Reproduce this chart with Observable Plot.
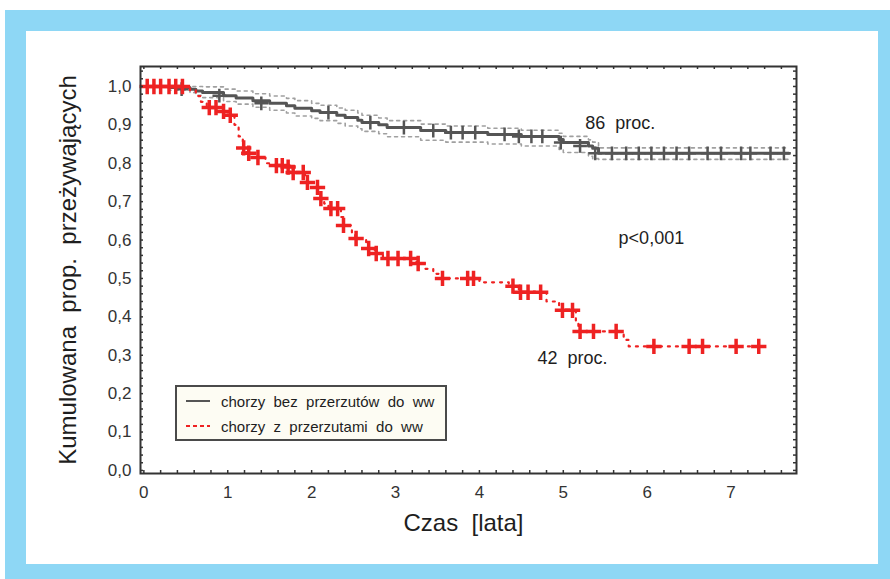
<!DOCTYPE html>
<html>
<head>
<meta charset="utf-8">
<script src="https://cdn.jsdelivr.net/npm/d3@7"></script>
<script src="https://cdn.jsdelivr.net/npm/@observablehq/plot@0.6"></script>
<style>
  html, body { margin: 0; padding: 0; background: #ffffff; }
  #page { position: relative; width: 890px; height: 579px; overflow: hidden; font-family: "Liberation Sans", Arial, sans-serif; }
  #blue { position: absolute; left: 5px; top: 10px; width: 885px; height: 569px; background: #8ed7f5; }
  #white { position: absolute; left: 26px; top: 31px; width: 852px; height: 533px; background: #ffffff; }
  #chart { position: absolute; left: 0; top: 0; }
  #legend { position: absolute; left: 175px; top: 385px; width: 272px; height: 56px; box-sizing: border-box;
            border: 2px solid #4a4a4a; background: #fdfcf3; }
  .lrow { position: absolute; left: 8px; height: 20px; display: flex; align-items: center; font-size: 15px; color: #1e1e1e; white-space: pre; }
  .lrow svg { margin-right: 10px; }
</style>
</head>
<body>
<div id="page">
  <div id="blue"></div>
  <div id="white"></div>
  <div id="chart"></div>
  <div id="legend">
    <div class="lrow" style="top:4px"><svg width="26" height="6"><line x1="1" y1="3" x2="25" y2="3" stroke="#555" stroke-width="2"/></svg>chorzy  bez  przerzutów  do  ww</div>
    <div class="lrow" style="top:29px"><svg width="26" height="6"><line x1="1" y1="3" x2="25" y2="3" stroke="#ee2222" stroke-width="2" stroke-dasharray="4,3"/></svg>chorzy  z  przerzutami  do  ww</div>
  </div>
</div>
<script>
// ---- data ----
const xTicks = [0, 1, 2, 3, 4, 5, 6, 7];
const yTicks = [0, 0.1, 0.2, 0.3, 0.4, 0.5, 0.6, 0.7, 0.8, 0.9, 1.0];

// Kaplan–Meier: patients without metastases (gray)
const grayTimes = [0, 0.3, 0.55, 0.62, 0.7, 0.95, 1.1, 1.3, 1.5, 1.7, 1.8, 2.0, 2.1, 2.3, 2.4, 2.55, 2.6, 2.8, 2.9, 3.3, 3.6, 4.1, 4.5, 4.95, 5.0, 5.3, 5.35, 5.42, 7.69];
const graySurv  = [1, 0.997, 0.993, 0.988, 0.984, 0.976, 0.97, 0.963, 0.956, 0.95, 0.943, 0.937, 0.932, 0.925, 0.919, 0.912, 0.906, 0.9, 0.893, 0.885, 0.88, 0.875, 0.87, 0.862, 0.854, 0.845, 0.839, 0.826, 0.826];
const grayUpper = [1, 1, 1, 1, 0.999, 0.993, 0.988, 0.981, 0.975, 0.969, 0.963, 0.956, 0.951, 0.944, 0.938, 0.931, 0.925, 0.918, 0.911, 0.902, 0.897, 0.891, 0.886, 0.878, 0.87, 0.861, 0.855, 0.84, 0.84];
const grayLower = [1, 0.99, 0.984, 0.977, 0.971, 0.961, 0.954, 0.946, 0.938, 0.931, 0.923, 0.917, 0.911, 0.904, 0.897, 0.89, 0.883, 0.877, 0.869, 0.86, 0.855, 0.85, 0.845, 0.836, 0.828, 0.818, 0.812, 0.81, 0.81];
const grayCensored = [0.45, 0.9, 1.4, 2.2, 2.7, 3.1, 3.45, 3.66, 3.8, 3.95, 4.3, 4.47, 4.62, 4.75, 4.97, 5.2, 5.38, 5.58, 5.75, 5.9, 6.05, 6.2, 6.35, 6.5, 6.72, 6.88, 7.12, 7.23, 7.47, 7.63];
const grayCensSurv = [0.993, 0.976, 0.956, 0.932, 0.906, 0.893, 0.885, 0.88, 0.88, 0.88, 0.875, 0.87, 0.87, 0.87, 0.854, 0.845, 0.826, 0.826, 0.826, 0.826, 0.826, 0.826, 0.826, 0.826, 0.826, 0.826, 0.826, 0.826, 0.826, 0.826];

// Kaplan–Meier: patients with metastases (red)
const redTimes = [0, 0.55, 0.62, 0.68, 0.75, 0.92, 1.0, 1.08, 1.13, 1.18, 1.22, 1.32, 1.45, 1.52, 1.75, 1.92, 1.95, 2.02, 2.07, 2.1, 2.15, 2.2, 2.35, 2.38, 2.48, 2.52, 2.65, 2.68, 2.75, 2.85, 3.25, 3.35, 3.45, 3.52, 4.0, 4.35, 4.47, 4.8, 4.95, 5.15, 5.18, 5.72, 5.78, 7.33];
const redSurv  = [1, 0.99, 0.975, 0.96, 0.945, 0.935, 0.925, 0.9, 0.87, 0.84, 0.826, 0.815, 0.8, 0.794, 0.776, 0.763, 0.75, 0.737, 0.72, 0.708, 0.695, 0.682, 0.66, 0.638, 0.62, 0.604, 0.59, 0.578, 0.565, 0.552, 0.539, 0.525, 0.512, 0.5, 0.49, 0.48, 0.464, 0.44, 0.417, 0.39, 0.362, 0.34, 0.323, 0.323];
const redCensored = [0.04, 0.12, 0.2, 0.3, 0.38, 0.46, 0.78, 0.86, 0.95, 1.03, 1.19, 1.25, 1.36, 1.58, 1.65, 1.72, 1.78, 1.9, 1.95, 2.07, 2.11, 2.23, 2.31, 2.38, 2.53, 2.68, 2.77, 2.91, 3.03, 3.18, 3.27, 3.56, 3.86, 3.93, 4.4, 4.49, 4.58, 4.73, 4.99, 5.11, 5.2, 5.36, 5.63, 6.08, 6.5, 6.66, 7.06, 7.33];
const redCensSurv = [1, 1, 1, 1, 1, 1, 0.945, 0.945, 0.935, 0.925, 0.84, 0.826, 0.815, 0.794, 0.794, 0.79, 0.776, 0.776, 0.75, 0.737, 0.708, 0.682, 0.682, 0.638, 0.604, 0.578, 0.565, 0.552, 0.552, 0.552, 0.539, 0.5, 0.5, 0.5, 0.48, 0.464, 0.464, 0.464, 0.417, 0.417, 0.362, 0.362, 0.362, 0.323, 0.323, 0.323, 0.323, 0.323];

const noteLabels = ["86  proc.", "p<0,001", "42  proc."];
const noteTimes = [5.68, 6.05, 5.11];
const noteSurv = [0.904, 0.604, 0.292];

// ---- tables built from the arrays ----
const grayLine = grayTimes.map((t, i) => ({t, s: graySurv[i]}));
const grayUp = grayTimes.map((t, i) => ({t, s: grayUpper[i]}));
const grayLo = grayTimes.map((t, i) => ({t, s: grayLower[i]}));
const grayCens = grayCensored.map((t, i) => ({t, s: grayCensSurv[i]}));
const redLine = redTimes.map((t, i) => ({t, s: redSurv[i]}));
const redCens = redCensored.map((t, i) => ({t, s: redCensSurv[i]}));
const notes = noteLabels.map((label, i) => ({label, t: noteTimes[i], s: noteSurv[i]}));

const xMinor = d3.range(0, 7.7, 0.2);
const yMinor = d3.range(0, 1.05, 0.02);

const W = 890, H = 579, mL = 140, mR = 94, mT = 66, mB = 106;
const innerW = W - mL - mR, innerH = H - mT - mB;
const tickLen = 3;
const fmtY = d => d.toFixed(1).replace(".", ",");

const chart = Plot.plot({
  width: W, height: H,
  marginLeft: mL, marginRight: mR, marginTop: mT, marginBottom: mB,
  style: {background: "transparent", fontFamily: "'Liberation Sans', Arial, sans-serif", color: "#2a2a2a"},
  x: {domain: [-0.04, 7.78]},
  y: {domain: [-0.008, 1.052]},
  marks: [
    // confidence band (gray, dashed)
    Plot.line(grayUp, {x: "t", y: "s", curve: "step-after", stroke: "#a0a0a0", strokeWidth: 1.6, strokeDasharray: "3,4"}),
    Plot.line(grayLo, {x: "t", y: "s", curve: "step-after", stroke: "#a0a0a0", strokeWidth: 1.6, strokeDasharray: "3,4"}),
    // gray survival curve
    Plot.line(grayLine, {x: "t", y: "s", curve: "step-after", stroke: "#555555", strokeWidth: 3}),
    Plot.dot(grayCens, {x: "t", y: "s", symbol: "plus", r: 4.5, stroke: "#555555", strokeWidth: 2.5}),
    // red survival curve
    Plot.line(redLine, {x: "t", y: "s", curve: "step-after", stroke: "#ee2222", strokeWidth: 2.2, strokeDasharray: "2,6"}),
    Plot.dot(redCens, {x: "t", y: "s", symbol: "plus", r: 5, stroke: "#ee2222", strokeWidth: 3.5}),
    // annotations
    Plot.text(notes, {x: "t", y: "s", text: "label", fontSize: 18, fill: "#1e1e1e"}),
    // frame and inward ticks
    Plot.frame({stroke: "#333333", strokeWidth: 2}),
    Plot.tickX(xMinor, {x: d => d, insetTop: innerH - tickLen, stroke: "#333", strokeWidth: 1.5}),
    Plot.tickX(xMinor, {x: d => d, insetBottom: innerH - tickLen, stroke: "#333", strokeWidth: 1.5}),
    Plot.tickY(yMinor, {y: d => d, insetRight: innerW - tickLen, stroke: "#333", strokeWidth: 1.5}),
    Plot.tickY(yMinor, {y: d => d, insetLeft: innerW - tickLen, stroke: "#333", strokeWidth: 1.5}),
    // axes
    Plot.axisX({ticks: xTicks, tickFormat: d => String(d), tickSize: 0, tickPadding: 12, fontSize: 17, label: null, fill: "#333"}),
    Plot.axisY({ticks: yTicks, tickFormat: fmtY, tickSize: 0, tickPadding: 9, fontSize: 17, label: null, fill: "#333"}),
    // axis titles
    Plot.text(["Czas  [lata]"], {frameAnchor: "bottom", dy: 50, dx: -5, textAnchor: "middle", lineAnchor: "middle", fontSize: 24, fill: "#1e1e1e"}),
    Plot.text(["Kumulowana  prop.  przeżywających"], {frameAnchor: "left", dx: -72, rotate: -90, textAnchor: "middle", lineAnchor: "middle", fontSize: 24, fill: "#1e1e1e"})
  ]
});
document.getElementById("chart").appendChild(chart);
</script>
</body>
</html>
